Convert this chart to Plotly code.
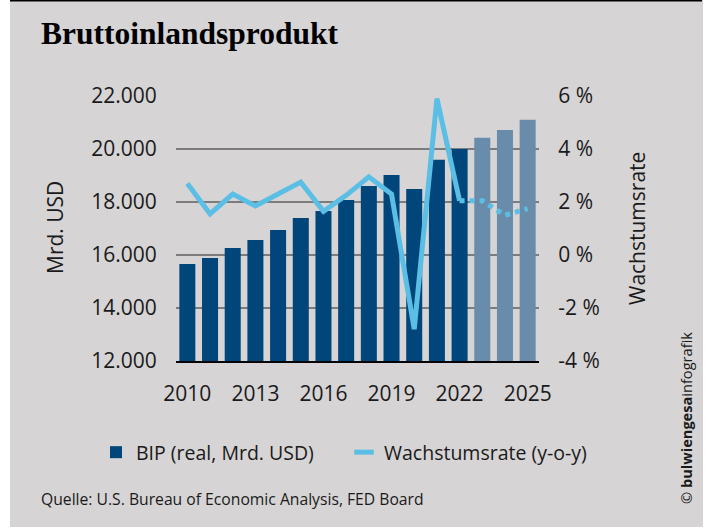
import plotly.graph_objects as go

# ---- data ----
years = [2010, 2011, 2012, 2013, 2014, 2015, 2016, 2017, 2018, 2019, 2020, 2021, 2022, 2023, 2024, 2025]
bip_years_actual = [2010, 2011, 2012, 2013, 2014, 2015, 2016, 2017, 2018, 2019, 2020, 2021, 2022]
bip_actual = [15660, 15890, 16260, 16570, 16940, 17400, 17660, 18080, 18600, 19020, 18490, 19590, 20000]
bip_years_forecast = [2023, 2024, 2025]
bip_forecast = [20420, 20720, 21100]

growth_years_actual = [2010, 2011, 2012, 2013, 2014, 2015, 2016, 2017, 2018, 2019, 2020, 2021, 2022]
growth_actual = [2.7, 1.55, 2.3, 1.85, 2.3, 2.75, 1.65, 2.25, 2.95, 2.3, -2.8, 5.9, 2.05]
growth_years_forecast = [2022, 2023, 2024, 2025]
growth_forecast = [2.05, 2.05, 1.5, 1.75]

x_tickvals = [2010, 2013, 2016, 2019, 2022, 2025]
y_tickvals = [12000, 14000, 16000, 18000, 20000, 22000]
y_ticktext = ["12.000", "14.000", "16.000", "18.000", "20.000", "22.000"]
y2_tickvals = [-4, -2, 0, 2, 4, 6]
y2_ticktext = ["-4 %", "-2 %", "0 %", "2 %", "4 %", "6 %"]

# ---- styling ----
W, H = 706, 528
ML, MR, MT, MB = 176, 167, 96, 167
PW, PH = W - ML - MR, H - MT - MB
BG = "#d6d4d5"
NAVY = "#00467a"
FORE = "#6a8cab"
BLUE = "#5bbee5"
TXT = "#1a1a1a"
FONT = "Open Sans"


def px(xp):
    return (xp - ML) / PW


def py(yp):
    return (H - MB - yp) / PH


fig = go.Figure()
fig.add_trace(go.Bar(x=bip_years_actual, y=bip_actual, name="BIP (real, Mrd. USD)",
                     marker=dict(color=NAVY, line=dict(width=0)), yaxis="y"))
fig.add_trace(go.Bar(x=bip_years_forecast, y=bip_forecast, name="BIP Prognose", showlegend=False,
                     marker=dict(color=FORE, line=dict(width=0)), yaxis="y"))
fig.add_trace(go.Scatter(x=growth_years_actual, y=growth_actual, mode="lines", showlegend=False,
                         line=dict(color=BLUE, width=5), yaxis="y2"))
fig.add_trace(go.Scatter(x=growth_years_forecast, y=growth_forecast, mode="lines", showlegend=False,
                         line=dict(color=BLUE, width=5, dash="5px,5px"), yaxis="y2"))
fig.add_trace(go.Scatter(x=[None], y=[None], mode="markers", name="Wachstumsrate (y-o-y)",
                         marker=dict(symbol="line-ew", size=14, color=BLUE,
                                     line=dict(color=BLUE, width=5)), yaxis="y2"))

fig.update_layout(
    width=W, height=H,
    margin=dict(l=ML, r=MR, t=MT, b=MB),
    paper_bgcolor="white", plot_bgcolor=BG,
    barmode="overlay", bargap=0.294,
    font=dict(family=FONT, size=21, color=TXT),
    xaxis=dict(range=[2009.5, 2025.5], tickvals=x_tickvals, ticks="outside", ticklen=13,
               tickcolor="rgba(0,0,0,0)", showgrid=False, showline=True, linecolor="black",
               linewidth=1.5, zeroline=False, tickfont=dict(size=21, color=TXT, family=FONT)),
    yaxis=dict(range=[12000, 22000], tickvals=y_tickvals, ticktext=y_ticktext,
               showgrid=True, gridcolor="#7c7c7c", gridwidth=1.5, zeroline=False,
               ticks="outside", ticklen=14, tickcolor="rgba(0,0,0,0)",
               tickfont=dict(size=21, color=TXT, family=FONT)),
    yaxis2=dict(range=[-4, 6], tickvals=y2_tickvals, ticktext=y2_ticktext, overlaying="y",
                side="right", showgrid=False, zeroline=False, ticks="outside", ticklen=14,
                tickcolor="rgba(0,0,0,0)", tickfont=dict(size=21, color=TXT, family=FONT)),
    showlegend=True,
    legend=dict(orientation="h", x=px(96), xanchor="left", y=py(433), yanchor="top",
                font=dict(size=19.5, color=TXT, family=FONT), bgcolor="rgba(0,0,0,0)",
                entrywidth=203, entrywidthmode="pixels", traceorder="normal"),
)

fig.add_shape(type="rect", xref="paper", yref="paper", x0=px(10), x1=px(703), y0=py(527), y1=py(0),
              fillcolor=BG, line=dict(width=0), layer="below")
fig.add_shape(type="line", xref="paper", yref="paper", x0=px(10), x1=px(702), y0=py(0.8), y1=py(0.8),
              line=dict(color="black", width=1.6))

fig.add_annotation(text="<b>Bruttoinlandsprodukt</b>", xref="paper", yref="paper", x=px(39), y=py(33),
                   xanchor="left", yanchor="middle", showarrow=False,
                   font=dict(family="Liberation Serif", size=31.5, color="black"))
fig.add_annotation(text="Mrd. USD", xref="paper", yref="paper", x=px(55), y=py(228), textangle=-90,
                   xanchor="center", yanchor="middle", showarrow=False,
                   font=dict(family=FONT, size=21, color=TXT))
fig.add_annotation(text="Wachstumsrate", xref="paper", yref="paper", x=px(637), y=py(229), textangle=-90,
                   xanchor="center", yanchor="middle", showarrow=False,
                   font=dict(family=FONT, size=21, color=TXT))
fig.add_annotation(text="Quelle: U.S. Bureau of Economic Analysis, FED Board", xref="paper", yref="paper",
                   x=px(39), y=py(499), xanchor="left", yanchor="middle", showarrow=False,
                   font=dict(family=FONT, size=15.7, color=TXT))
fig.add_annotation(text="© <b>bulwiengesa</b>infografik", xref="paper", yref="paper",
                   x=px(686), y=py(418), textangle=-90, xanchor="center", yanchor="middle",
                   showarrow=False, font=dict(family=FONT, size=14.6, color=TXT))

fig.write_html("out.html")
